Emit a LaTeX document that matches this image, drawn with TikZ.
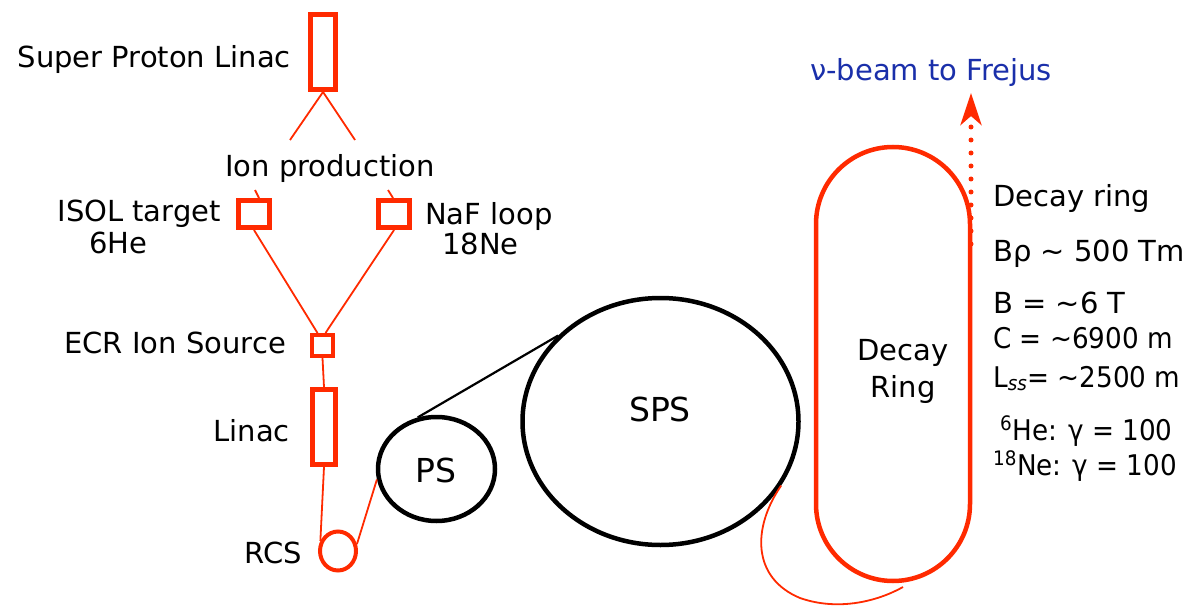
\documentclass[tikz,border=0pt]{standalone}
\usepackage{fontspec}
\setmainfont{DejaVu Sans}
\newfontfamily\paramfont[FakeStretch=0.92]{DejaVu Sans}
\usetikzlibrary{shapes.geometric,arrows.meta}
\definecolor{beamred}{HTML}{FF2A00}
\definecolor{beamblue}{HTML}{1A2FAA}

\begin{document}
\begin{tikzpicture}[x=1pt,y=-1pt,
  txt/.style={font=\fontsize{29}{34}\selectfont, inner sep=0pt},
  smtxt/.style={font=\paramfont\fontsize{28.5}{34}\selectfont, inner sep=0pt},
  bigtxt/.style={font=\fontsize{33}{38}\selectfont, inner sep=0pt},
  stage/.style={draw=beamred, line width=5pt, inner sep=0pt, rectangle},
  machine/.style={draw=black, line width=4.5pt, ellipse, inner sep=0pt},
  feed/.style={draw=beamred, line width=1.8pt},
  transfer/.style={draw=black, line width=2.2pt},
  ]
\useasboundingbox (0,0) rectangle (1192,607);

% ---- ion injector chain ----
\node[stage, minimum width=25pt, minimum height=75pt] (spl) at (323,52) {};
\node[txt, anchor=base east] (spllbl) at (291,68) {Super Proton Linac};

\node[txt, anchor=base] (ion) at (330,177) {Ion production};
\coordinate (ionL) at (290,140);
\coordinate (ionR) at (355,140);
\coordinate (ionBL) at (255,190);
\coordinate (ionBR) at (388,190);

\node[stage, minimum width=31pt, minimum height=27pt] (isol) at (254,214) {};
\node[stage, minimum width=31pt, minimum height=27pt] (naf) at (394,214) {};
\node[txt, anchor=base east] (isollbl) at (221,221) {ISOL target};
\node[txt, anchor=base west] (helbl) at (89,253) {6He};
\node[txt, anchor=base west] (naflbl) at (425,225) {NaF loop};
\node[txt, anchor=base west] (nelbl) at (442,254) {18Ne};

\node[stage, line width=4pt, minimum width=21pt, minimum height=21pt] (ecr) at (322.5,345.5) {};
\node[txt, anchor=base east] (ecrlbl) at (286,353) {ECR Ion Source};

\node[stage, minimum width=23pt, minimum height=75pt] (linac) at (324,427) {};
\node[txt, anchor=base east] (linaclbl) at (290,441) {Linac};

\node[draw=beamred, line width=4pt, ellipse, inner sep=0pt,
      minimum width=36pt, minimum height=39pt] (rcs) at (338,551) {};
\node[txt, anchor=base east] (rcslbl) at (302,563) {RCS};

\draw[feed] (spl.south) -- (ionL);
\draw[feed] (spl.south) -- (ionR);
\draw[feed] (ionBL) -- ([xshift=5pt]isol.north);
\draw[feed] (ionBR) -- ([xshift=-1pt]naf.north);
\draw[feed] (isol.south) -- ([xshift=-5pt]ecr.north);
\draw[feed] (naf.south) -- ([xshift=3pt]ecr.north);
\draw[feed] (ecr.south) -- (linac.north);
\draw[feed] (linac.south) -- (rcs.150);

% ---- PS and SPS ----
\node[machine, minimum width=117pt, minimum height=104pt] (ps) at (436.5,469) {};
\node[bigtxt, anchor=base] (pslbl) at (436,482) {PS};
\node[machine, minimum width=276pt, minimum height=247pt] (sps) at (660.5,421.5) {};
\node[bigtxt, anchor=base] (spslbl) at (660,421) {SPS};

\draw[feed] (rcs.20) -- (ps.190);
\draw[transfer] (ps.110) -- (sps.140);

% ---- decay ring ----
\node[draw=beamred, line width=4.5pt, rectangle, rounded corners=77pt,
      minimum width=154pt, minimum height=434pt, inner sep=0pt] (ring) at (893,364) {};
\node[txt, anchor=base] (ringlbl1) at (903,360) {Decay};
\node[txt, anchor=base] (ringlbl2) at (903,397) {Ring};

\coordinate (inj) at (903,587);
\draw[feed] (sps.-28) .. controls (752,528) and (752,578) .. (800,598)
            .. controls (840,612) and (880,600) .. (inj);

% neutrino beam leaving the straight section
\coordinate (beamfrom) at (971,244);
\coordinate (beamto) at (971,93);
\draw[beamred, line width=5pt, line cap=round, dash pattern=on 0pt off 13pt,
      -{Stealth[length=32pt,width=21pt,inset=9pt]}] (beamfrom) -- (beamto);
\node[txt, anchor=base west, text=beamblue] (beamlbl) at (810,81) {ν-beam to Frejus};

% ---- parameters ----
\node[txt, anchor=base west] (p1) at (993,207) {Decay ring};
\node[txt, anchor=base west] (p2) at (993,261) {Bρ \textasciitilde{} 500 Tm};
\node[txt, anchor=base west] (p3) at (993,313) {B = \textasciitilde 6 T};
\node[smtxt, anchor=base west] (p4) at (993,348) {C = \textasciitilde 6900 m};
\node[smtxt, anchor=base west] (p5) at (993,387) {L\textsubscript{\itshape ss}= \textasciitilde 2500 m};
\node[smtxt, anchor=base west] (p6) at (1000,440) {\textsuperscript{6}He: γ = 100};
\node[smtxt, anchor=base west] (p7) at (993,475) {\textsuperscript{18}Ne: γ = 100};
\end{tikzpicture}
\end{document}
